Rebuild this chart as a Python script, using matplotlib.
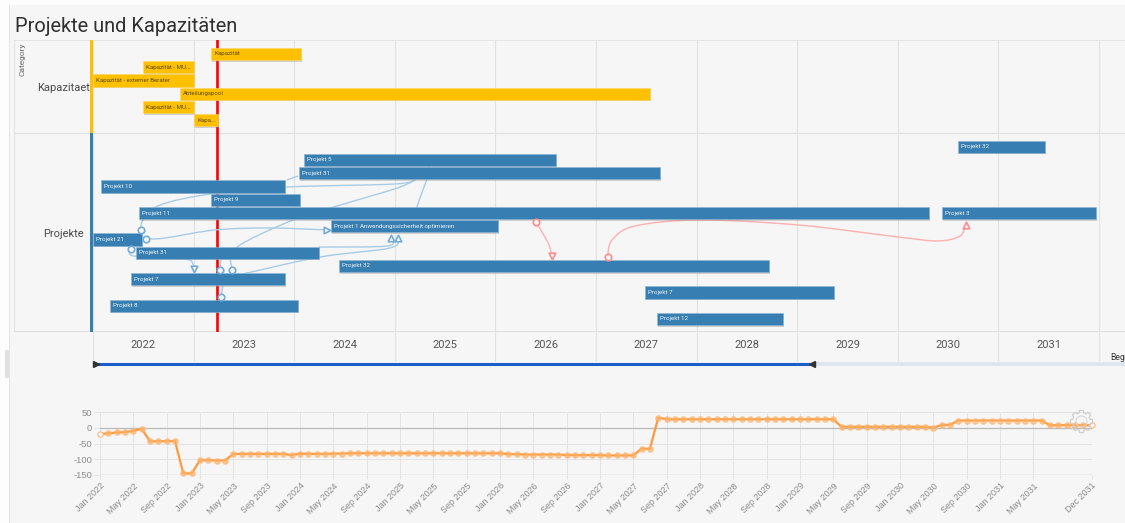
import numpy as np
import matplotlib
matplotlib.use('Agg')
import matplotlib.pyplot as plt
import matplotlib.patheffects as pe
from matplotlib.patches import PathPatch, Rectangle
from matplotlib.path import Path

W, H = 1125, 523

# Gantt data: label, start year, end year, row
cap_labels = ['Kapazität', 'Kapazität - MU...', 'Kapazität - externer Berater',
              'Abteilungspool', 'Kapazität - MU...', 'Kapa...']
cap_start = [2023.173, 2022.497, 2022.0, 2022.865, 2022.497, 2023.004]
cap_end = [2024.068, 2023.004, 2023.004, 2027.537, 2023.004, 2023.243]
cap_row = [0, 1, 2, 3, 4, 5]

proj_labels = ['Projekt 32', 'Projekt 5', 'Projekt 31', 'Projekt 10', 'Projekt 9',
               'Projekt 11', 'Projekt 3', 'Projekt 1 Anwendungssicherheit optimieren',
               'Projekt 21', 'Projekt 31', 'Projekt 32', 'Projekt 7', 'Projekt 7',
               'Projekt 8', 'Projekt 12']
proj_start = [2030.598, 2024.097, 2024.048, 2022.080, 2023.173, 2022.457, 2030.439,
              2024.366, 2022.0, 2022.427, 2024.445, 2022.378, 2027.487, 2022.169, 2027.606]
proj_end = [2031.463, 2026.602, 2027.636, 2023.909, 2024.058, 2030.310, 2031.970,
            2026.026, 2022.487, 2024.247, 2028.720, 2023.909, 2029.366, 2024.038, 2028.859]
proj_row = [7, 8, 9, 10, 11, 12, 12, 13, 14, 15, 16, 17, 18, 19, 20]

today = 2023.233
years = [2022, 2023, 2024, 2025, 2026, 2027, 2028, 2029, 2030, 2031]
window_end = 2029.127

# Dependency links as (year, row) way points
blue_links = [
    [(2022.477, 13.28), (2022.497, 12.53), (2022.666, 11.40), (2023.163, 10.57),
     (2023.928, 10.04), (2025.002, 9.81), (2025.221, 9.43)],
    [(2023.382, 16.30), (2023.421, 14.64), (2023.988, 12.53), (2024.525, 11.25),
     (2025.052, 10.04), (2025.270, 9.13), (2025.350, 8.38)],
    [(2023.262, 16.30), (2023.272, 15.25)],
    [(2025.320, 9.43), (2025.221, 11.55), (2025.211, 12.53)],
    [(2022.527, 13.96), (2022.716, 13.89), (2023.213, 13.28), (2023.759, 13.13),
     (2024.326, 13.28)],
    [(2022.378, 14.72), (2022.408, 15.25), (2022.895, 15.47), (2022.984, 15.70),
     (2023.004, 16.23)],
    [(2024.247, 14.57), (2024.922, 14.49), (2024.962, 13.89)],
    [(2023.491, 16.60), (2024.257, 15.32), (2024.952, 14.64), (2025.032, 13.89)],
    [(2023.272, 18.34), (2023.292, 17.43)],
    [(2023.928, 9.51), (2024.037, 9.21)],
]
pink_links = [
    [(2026.404, 12.68), (2026.463, 13.43), (2026.533, 14.41), (2026.563, 15.25)],
    [(2027.115, 15.32), (2027.159, 14.04), (2027.387, 12.98), (2028.024, 12.53),
     (2029.018, 12.91), (2030.002, 13.81), (2030.399, 14.11), (2030.618, 13.74),
     (2030.673, 12.91)],
]
blue_circles = [(2022.477, 13.28), (2022.527, 13.96), (2022.378, 14.72), (2023.262, 16.30),
                (2023.382, 16.30), (2023.272, 18.34)]
blue_tri_right = [(2024.326, 13.28)]
blue_tri_down = [(2023.004, 16.23)]
blue_tri_up = [(2024.962, 13.89), (2025.032, 13.89)]
pink_circles = [(2026.404, 12.68), (2027.115, 15.32)]
pink_tri_down = [(2026.563, 15.25)]
pink_tri_up = [(2030.673, 12.91)]

# Monthly balance Jan 2022 - Dec 2031
balance = [
    -20, -18, -15, -14, -10, -3, -43, -43, -43, -42, -145, -145,
    -103, -103, -104, -104, -83, -83, -83, -83, -83, -83, -83, -87,
    -82, -83, -83, -83, -82, -82, -81, -81, -81, -81, -81, -81,
    -81, -81, -81, -81, -81, -81, -81, -81, -81, -81, -81, -81,
    -81, -84, -84, -85, -85, -85, -85, -85, -87, -87, -87, -87,
    -87, -88, -88, -88, -88, -66, -67, 32, 27, 27, 27, 27,
    27, 27, 27, 27, 27, 27, 27, 27, 27, 27, 27, 27,
    27, 27, 27, 27, 27, 3, 3, 3, 3, 3, 3, 3,
    3, 3, 3, 3, 0, 9, 9, 23, 23, 23, 23, 23,
    23, 23, 23, 23, 23, 23, 8, 8, 8, 8, 8, 8,
]
tick_months = [0, 4, 8, 12, 16, 20, 24, 28, 32, 36, 40, 44, 48, 52, 56, 60, 64, 68, 72,
               76, 80, 84, 88, 92, 96, 100, 104, 108, 112, 119]
tick_labels = ['Jan 2022', 'May 2022', 'Sep 2022', 'Jan 2023', 'May 2023', 'Sep 2023',
               'Jan 2024', 'May 2024', 'Sep 2024', 'Jan 2025', 'May 2025', 'Sep 2025',
               'Jan 2026', 'May 2026', 'Sep 2026', 'Jan 2027', 'May 2027', 'Sep 2027',
               'Jan 2028', 'May 2028', 'Sep 2028', 'Jan 2029', 'May 2029', 'Sep 2029',
               'Jan 2030', 'May 2030', 'Sep 2030', 'Jan 2031', 'May 2031', 'Dec 2031']

BG = '#f6f6f6'
YELLOW = '#ffc000'
BLUE = '#377eb2'
GRID = '#e2e2e2'
plt.rcParams['font.family'] = ['Roboto', 'DejaVu Sans']


def px_axes(left, top, right, bottom):
    a = fig.add_axes([left / W, 1 - bottom / H, (right - left) / W, (bottom - top) / H])
    a.patch.set_alpha(0)
    for s in a.spines.values():
        s.set_visible(False)
    return a


def smooth_path(points):
    # catmull-rom through the way points
    p = np.array(points, dtype=float)
    if len(p) == 2:
        return Path(p, [Path.MOVETO, Path.LINETO])
    verts = [p[0]]
    codes = [Path.MOVETO]
    for i in range(len(p) - 1):
        p0 = p[max(i - 1, 0)]
        p3 = p[min(i + 2, len(p) - 1)]
        verts += [p[i] + (p[i + 1] - p0) / 6, p[i + 1] - (p3 - p[i]) / 6, p[i + 1]]
        codes += [Path.CURVE4] * 3
    return Path(verts, codes)


fig = plt.figure(figsize=(W / 100, H / 100), dpi=100, facecolor='#fdfdfd')

# page panel behind everything
fig.add_artist(Rectangle((9 / W, 0), 1 - 9 / W, 1 - 5 / H, transform=fig.transFigure,
                         facecolor=BG, edgecolor='none', zorder=-3))
fig.add_artist(Rectangle((9 / W, 0), 1 / W, 1 - 5 / H, transform=fig.transFigure,
                         facecolor='#e4e4e4', edgecolor='none', zorder=-2))
fig.add_artist(Rectangle((5 / W, 1 - 378 / H), 4 / W, 28 / H, transform=fig.transFigure,
                         facecolor='#e0e0e0', edgecolor='none', zorder=-2))

fig.text(15 / W, 1 - 26.5 / H, 'Projekte und Kapazitäten', fontsize=14.4, color='#303030',
         va='center', ha='left')

# Gantt
ax = px_axes(14, 40, W, 332)
year_px = 100.6
row_px = 13.25
ax.set_xlim(2022 - 79 / year_px, 2022 + (W - 93) / year_px)
ax.set_ylim((332 - 54) / row_px, (40 - 54) / row_px)
ax.set_xticks([])
ax.set_yticks([])

for y in years:
    ax.axvline(y + 1, color=GRID, lw=0.8, zorder=1)
ax.axvline(2022, color=GRID, lw=0.8, zorder=1)
ax.axhline((133 - 54) / row_px, color=GRID, lw=0.9, zorder=1)
ax.axhline((40 - 54) / row_px, color=GRID, lw=1.2, zorder=1)
ax.axhline((332 - 54) / row_px, color='#dcdcdc', lw=2, zorder=1)
ax.axvline(ax.get_xlim()[0], color=GRID, lw=1.5, zorder=1)

# category strips
ax.bar(2022 - 1.6 / year_px, (133 - 40) / row_px, width=3.2 / year_px, bottom=(40 - 54) / row_px,
       color=YELLOW, zorder=3)
ax.bar(2022 - 1.6 / year_px, (332 - 133) / row_px, width=3.2 / year_px, bottom=(133 - 54) / row_px,
       color=BLUE, zorder=3)

ax.axvline(today, color='#ff0000', lw=1.9, zorder=2)

for link in blue_links:
    ax.add_patch(PathPatch(smooth_path(link), facecolor='none', edgecolor='#a8cce6', lw=1.0, zorder=3))
for link in pink_links:
    ax.add_patch(PathPatch(smooth_path(link), facecolor='none', edgecolor='#ffb0b0', lw=1.0, zorder=3))

shadow = [pe.SimplePatchShadow(offset=(1, -1), shadow_rgbFace='#888888', alpha=0.35), pe.Normal()]
bar_h = 0.93
for lab, s, e, r in zip(cap_labels, cap_start, cap_end, cap_row):
    ax.barh(r, e - s, left=s, height=bar_h, color=YELLOW, edgecolor='#ffd766', lw=0.4, zorder=4,
            path_effects=shadow)
    ax.text(s + 3 / year_px, r, lab, fontsize=4.4, color='#5a4a10', va='center', ha='left', zorder=6)
for lab, s, e, r in zip(proj_labels, proj_start, proj_end, proj_row):
    ax.barh(r, e - s, left=s, height=bar_h, color=BLUE, edgecolor='#8fb6d4', lw=0.4, zorder=4,
            path_effects=shadow)
    ax.text(s + 3 / year_px, r, lab, fontsize=4.5, color='#eef4f8', va='center', ha='left', zorder=6)


def markers(points, marker, edge, size=22):
    xs, ys = zip(*points)
    ax.scatter(xs, ys, marker=marker, s=size, facecolor=BG, edgecolor=edge, lw=1.2, zorder=5)


markers(blue_circles, 'o', '#74acd8')
markers(blue_tri_right, '>', '#74acd8')
markers(blue_tri_down, 'v', '#74acd8')
markers(blue_tri_up, '^', '#74acd8')
markers(pink_circles, 'o', '#ff8c8c')
markers(pink_tri_down, 'v', '#ff8c8c')
markers(pink_tri_up, '^', '#ff8c8c')

# category labels
ax.text(2022 - 3.5 / year_px, (88 - 54) / row_px, 'Kapazitaet', fontsize=8, color='#4a4a4a',
        ha='right', va='center', zorder=6)
ax.text(2022 - 9 / year_px, (234 - 54) / row_px, 'Projekte', fontsize=8, color='#4a4a4a',
        ha='right', va='center', zorder=6)
ax.text(2022 - 71 / year_px, (43 - 54) / row_px, 'Category', fontsize=6, color='#666666',
        rotation=90, ha='center', va='top', zorder=6)

# year axis + time window
tax = px_axes(14, 332, W, 368)
tax.set_xlim(ax.get_xlim())
tax.set_ylim(36, 0)
tax.set_xticks([])
tax.set_yticks([])
tax.vlines([2022] + [y + 1 for y in years], 0, 29, color=GRID, lw=0.8)
for y in years:
    tax.text(y + 0.5, 12.8, str(y), fontsize=8, color='#555555', ha='center', va='center')
tax.plot([2022, window_end], [31.5, 31.5], color='#1a5fc8', lw=2.2, solid_capstyle='butt', zorder=3)
tax.plot([window_end, tax.get_xlim()[1]], [31.5, 31.5], color='#dde5f3', lw=2.8, solid_capstyle='butt', zorder=2)
tax.plot([2022.028], [31.5], marker='>', ms=4.2, color='#333333', zorder=4, clip_on=False)
tax.plot([window_end + 0.02], [31.5], marker='<', ms=4.2, color='#333333', zorder=4, clip_on=False)
fig.text(1110 / W, 1 - 358 / H, 'Beg', fontsize=6.2, color='#333333', ha='left', va='center')

# balance chart
bax = px_axes(100, 412, 1091.5, 475)
months = np.arange(len(balance))
bax.set_xlim(0, len(balance) - 1)
bax.set_ylim(-150, 50)
bax.set_yticks([50, 0, -50, -100, -150])
bax.set_yticklabels(['50', '0', '-50', '-100', '-150'])
bax.set_xticks(tick_months)
bax.set_xticklabels(tick_labels, rotation=45, ha='right', rotation_mode='anchor')
bax.tick_params(axis='x', length=3, color='#e4e4e4', labelcolor='#8c8c8c', pad=1.5)
bax.tick_params(axis='y', length=4, color='#e4e4e4', labelcolor='#8c8c8c', pad=1.5)
for lab in bax.get_xticklabels():
    lab.set_family(['Liberation Sans', 'DejaVu Sans'])
    lab.set_fontsize(6.5)
for lab in bax.get_yticklabels():
    lab.set_family(['Liberation Sans', 'DejaVu Sans'])
    lab.set_fontsize(6.8)
bax.grid(True, color='#e4e4e4', lw=0.8)
bax.set_axisbelow(True)
bax.axhline(0, color='#bbbbbb', lw=0.9, zorder=1)
bax.axhline(-150, color='#d4d4d4', lw=1.0, zorder=1)
bax.plot(months, balance, color='#ff9a3c', lw=1.6, zorder=3, clip_on=False)
bax.plot(months[1:-1], balance[1:-1], ls='none', marker='o', ms=3.8, mfc='#ffb26b', mec='#ffb26b',
         alpha=0.65, zorder=4, clip_on=False)
bax.plot(months[[0, -1]], [balance[0], balance[-1]], ls='none', marker='o', ms=3.8, mfc=BG,
         mec='#ffb26b', mew=0.7, zorder=4, clip_on=False)

# settings gear in the corner of the balance chart
angles = np.linspace(0, 2 * np.pi, 73)
gear_r = np.where(np.mod(angles + np.pi / 16, np.pi / 4) < np.pi / 8, 1.0, 0.8)
gear = Path(np.column_stack([gear_r * np.cos(angles), gear_r * np.sin(angles)]))
gax = fig.add_axes([1068 / W, 1 - 433 / H, 26 / W, 24 / H], frameon=False, xticks=[], yticks=[])
gax.plot([0], [0], marker=gear, ms=16, mfc='none', mec='#cfcfcf', mew=0.9, clip_on=False)
gax.plot([0], [0], marker='o', ms=8, mfc='none', mec='#d6d6d6', mew=0.8, clip_on=False)

fig.savefig('out.png', dpi=100, facecolor=fig.get_facecolor())
